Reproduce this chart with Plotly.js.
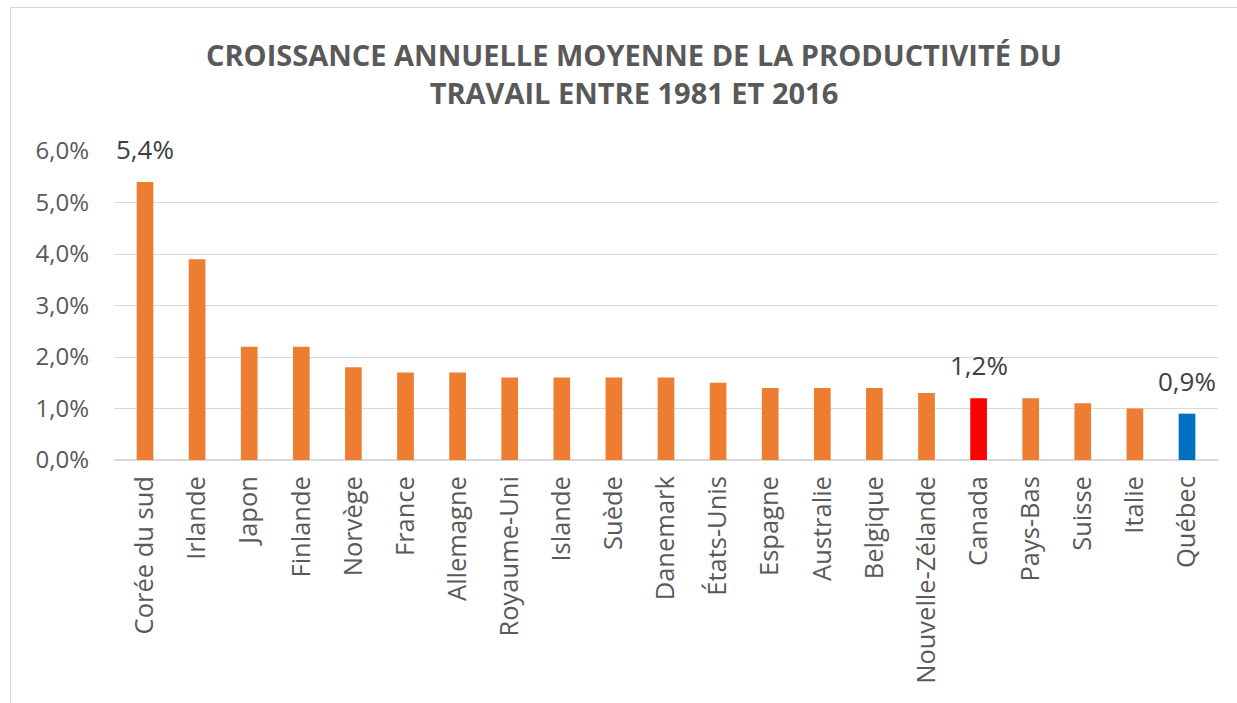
<!DOCTYPE html>
<html>
<head>
<meta charset="utf-8">
<script src="https://cdn.plot.ly/plotly-3.0.1.min.js"></script>
<style>
html,body{margin:0;padding:0;background:#fff;overflow:hidden;}
#frame{position:absolute;left:10px;top:7px;width:1240px;height:710px;border:1px solid #d9d9d9;box-sizing:border-box;pointer-events:none;z-index:2;}
#chart{position:absolute;left:0;top:0;width:1237px;height:703px;}
</style>
</head>
<body>
<div id="chart"></div>
<div id="frame"></div>
<script>
const categories = ["Corée du sud","Irlande","Japon","Finlande","Norvège","France","Allemagne","Royaume-Uni","Islande","Suède","Danemark","États-Unis","Espagne","Australie","Belgique","Nouvelle-Zélande","Canada","Pays-Bas","Suisse","Italie","Québec"];
const values = [5.4,3.9,2.2,2.2,1.8,1.7,1.7,1.6,1.6,1.6,1.6,1.5,1.4,1.4,1.4,1.3,1.2,1.2,1.1,1.0,0.9];
const barColors = categories.map(c => c === "Canada" ? "#FF0000" : (c === "Québec" ? "#0070C0" : "#ED7D31"));
const labelledCategories = ["Corée du sud","Canada","Québec"];
const yTickVals = [0,1,2,3,4,5,6];
const yTickText = yTickVals.map(v => v.toFixed(1).replace('.', ',') + '%');

const annotations = labelledCategories.map(c => {
  const i = categories.indexOf(c);
  return {
    x: c, y: values[i], xref: 'x', yref: 'y',
    text: values[i].toFixed(1).replace('.', ',') + '%',
    showarrow: false, yanchor: 'bottom', yshift: 13,
    font: {family: 'Open Sans, sans-serif', size: 26, color: '#404040'}
  };
});

const trace = {
  type: 'bar',
  x: categories,
  y: values,
  marker: {color: barColors},
  hoverinfo: 'x+y'
};

const layout = {
  width: 1237, height: 703,
  margin: {l: 114, r: 19, t: 151, b: 243},
  paper_bgcolor: '#ffffff', plot_bgcolor: '#ffffff',
  bargap: 0.68,
  showlegend: false,
  title: {
    text: 'CROISSANCE ANNUELLE MOYENNE DE LA PRODUCTIVITÉ DU<br>TRAVAIL ENTRE 1981 ET 2016',
    font: {family: 'Open Sans, sans-serif', size: 29, color: '#595959', weight: 'bold'},
    x: 0.5125, xanchor: 'center', y: 1 - 66/703, yanchor: 'top'
  },
  xaxis: {
    type: 'category',
    tickangle: -90,
    tickfont: {family: 'Open Sans, sans-serif', size: 25.5, color: '#595959'},
    showgrid: false, showline: false, ticks: '',
    ticklabelstandoff: 10
  },
  yaxis: {
    range: [0, 6],
    tickvals: yTickVals,
    ticktext: yTickText,
    tickfont: {family: 'Open Sans, sans-serif', size: 24, color: '#595959'},
    gridcolor: '#d9d9d9', gridwidth: 1,
    zeroline: true, zerolinecolor: '#d9d9d9', zerolinewidth: 2,
    showline: false, ticks: '',
    ticklabelstandoff: 24
  },
  annotations: annotations
};

Plotly.newPlot('chart', [trace], layout, {displayModeBar: false, staticPlot: true});
</script>
</body>
</html>
